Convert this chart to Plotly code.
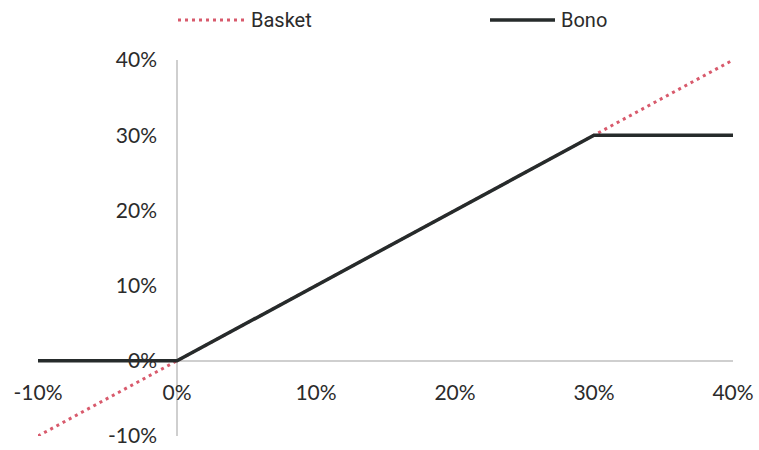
import plotly.graph_objects as go

# Underlying performance (x) and payoff of each instrument (y), in percent
basket_x = [-10, 40]
basket_y = [-10, 40]
bono_x = [-10, 0, 30, 40]
bono_y = [0, 0, 30, 30]

tick_vals = [-10, 0, 10, 20, 30, 40]
tick_text = ["-10%", "0%", "10%", "20%", "30%", "40%"]

series_names = ["Basket", "Bono"]
basket_color = "#d85a6c"
bono_color = "#262b2b"
text_color = "#2b2b2b"
axis_color = "#cfcfcf"

MARGIN_L, MARGIN_R, MARGIN_T, MARGIN_B = 38, 26, 60, 14
PLOT_W = 759 - MARGIN_L - MARGIN_R
PLOT_H = 450 - MARGIN_T - MARGIN_B

fig = go.Figure()
fig.add_trace(go.Scatter(x=basket_x, y=basket_y, mode="lines", name=series_names[0],
                         line=dict(color=basket_color, width=3, dash="3px,4px")))
fig.add_trace(go.Scatter(x=bono_x, y=bono_y, mode="lines", name=series_names[1],
                         line=dict(color=bono_color, width=3.5)))

tick_font = dict(family="Lato", size=21, color=text_color)

fig.update_layout(
    width=759, height=450,
    margin=dict(l=MARGIN_L, r=MARGIN_R, t=MARGIN_T, b=MARGIN_B, autoexpand=False),
    paper_bgcolor="white", plot_bgcolor="white",
    showlegend=False,
    xaxis=dict(range=[-10, 40], tickvals=tick_vals, ticktext=tick_text,
               anchor="free", position=0.2, showgrid=False, showline=False,
               zeroline=True, zerolinecolor=axis_color, zerolinewidth=1.5,
               ticks="", ticklabelstandoff=17, ticklabeloverflow="allow",
               tickfont=tick_font, fixedrange=True),
    yaxis=dict(range=[-10, 40], tickvals=tick_vals, ticktext=tick_text,
               anchor="free", position=0.2, showgrid=False, showline=False,
               zeroline=True, zerolinecolor=axis_color, zerolinewidth=1.5,
               ticks="", ticklabelstandoff=20, ticklabeloverflow="allow",
               tickfont=tick_font, fixedrange=True),
)

# Legend drawn above the plot: line sample followed by the series name
legend_font = dict(family="Roboto", size=20, color=text_color)
legend_y = 1 + (MARGIN_T - 20) / PLOT_H
legend_items = [
    (series_names[0], basket_color, "3px,4px", 3, 178, 245),
    (series_names[1], bono_color, "solid", 3.5, 490, 555),
]
for name, color, dash, width, x0, x1 in legend_items:
    fig.add_shape(type="line", xref="paper", yref="paper",
                  x0=(x0 - MARGIN_L) / PLOT_W, x1=(x1 - MARGIN_L) / PLOT_W,
                  y0=legend_y, y1=legend_y,
                  line=dict(color=color, width=width, dash=dash))
    fig.add_annotation(text=name, xref="paper", yref="paper",
                       x=(x1 + 4 - MARGIN_L) / PLOT_W, y=legend_y,
                       xanchor="left", yanchor="middle", showarrow=False,
                       font=legend_font)

fig.write_html("out.html")
